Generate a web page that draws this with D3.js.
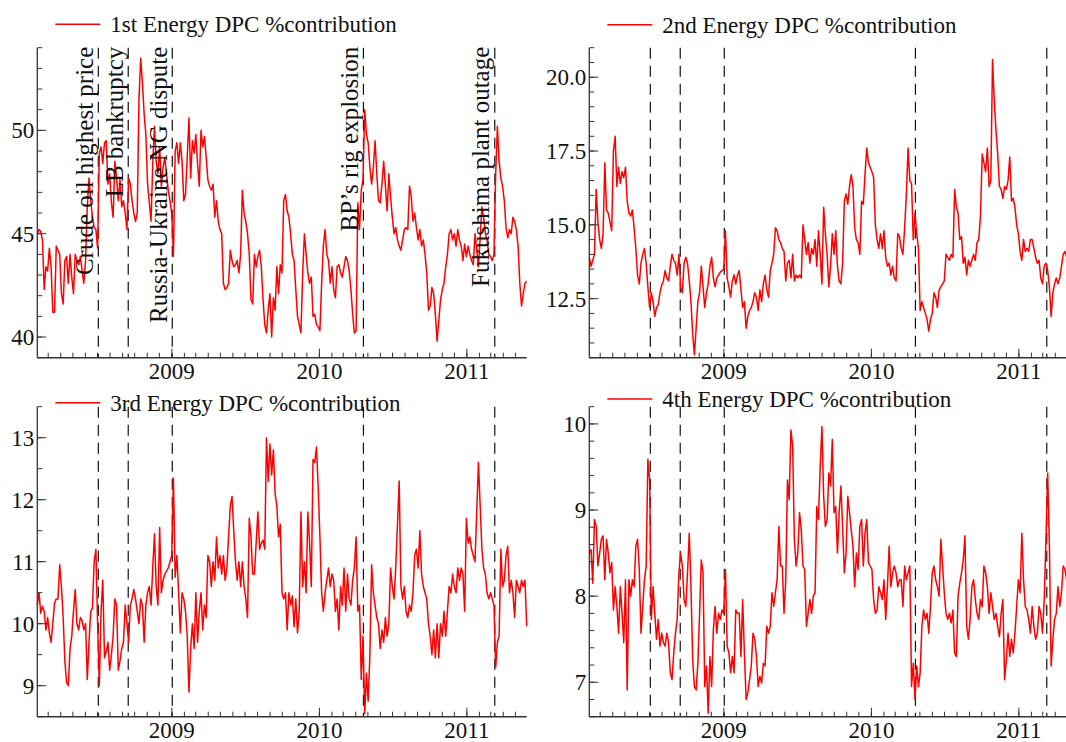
<!DOCTYPE html>
<html>
<head>
<meta charset="utf-8">
<script src="https://cdn.jsdelivr.net/npm/d3@7"></script>
<style>
  body { margin: 0; background: #fff; }
  svg { display: block; }
  svg text { font-family: "Liberation Serif", "Times New Roman", serif; }
</style>
</head>
<body>
<svg id="chart" width="1066" height="742" font-family="Liberation Serif, serif"></svg>
<script>
// series names (legend)
var seriesNames = ["1st Energy DPC %contribution", "2nd Energy DPC %contribution",
                   "3rd Energy DPC %contribution", "4th Energy DPC %contribution"];

// values, evenly spaced from firstDay to lastDay
var firstDay = "2008-02-03", lastDay = "2011-05-29";

var energy1 = [45.0,45.2,45.1,44.7,42.3,43.4,43.2,44.3,43.4,41.2,
  41.2,44.4,44.2,44.0,42.1,41.6,43.7,43.9,42.6,44.0,
  42.9,42.1,44.0,43.7,43.5,43.9,43.2,42.6,43.7,46.3,
  47.7,46.6,45.8,45.3,45.2,44.3,48.9,49.2,48.4,49.4,
  49.5,47.4,47.9,46.5,45.8,48.5,47.7,46.6,47.6,46.3,
  46.6,46.0,45.2,47.7,47.4,46.6,46.0,45.6,46.0,51.5,
  53.5,52.3,50.8,49.8,47.4,46.5,45.6,48.4,50.2,48.5,
  47.9,49.2,47.3,48.2,48.7,47.9,47.1,46.6,46.0,43.9,
  49.0,49.4,48.4,49.4,48.5,46.6,46.9,48.7,50.6,47.7,
  49.5,48.9,49.8,48.4,47.3,50.0,49.2,49.7,48.7,47.6,
  47.3,47.1,47.4,45.8,46.6,45.6,45.2,45.0,42.6,42.3,
  42.4,42.6,44.2,43.7,43.4,43.5,43.7,43.1,44.0,47.1,
  46.0,45.6,45.0,44.0,41.8,41.6,44.0,43.4,43.9,44.2,
  43.4,41.8,40.6,40.2,41.3,42.1,40.0,41.9,41.3,43.4,
  42.1,43.5,43.1,46.6,46.9,46.1,45.8,45.0,44.0,43.7,
  42.3,41.0,40.6,40.2,43.1,45.0,44.0,43.1,42.6,42.9,
  41.0,41.1,40.6,40.5,40.3,42.6,44.4,45.2,44.0,43.7,
  42.6,43.4,42.3,41.9,43.4,43.5,43.1,42.9,43.4,43.9,
  43.7,43.2,42.3,41.1,40.2,40.3,46.5,45.2,47.1,47.6,
  51.0,49.8,49.4,48.2,47.4,48.2,49.5,47.9,46.6,46.5,
  47.4,48.5,47.3,46.1,47.9,46.8,45.8,45.0,45.3,44.7,
  44.4,44.2,44.7,45.2,45.3,45.2,47.3,46.8,45.6,46.0,
  45.3,44.7,45.2,44.4,44.7,44.0,43.1,41.3,41.5,42.4,
  42.1,41.1,39.8,40.8,41.8,42.3,42.6,43.4,44.0,45.0,
  45.2,44.7,45.0,44.4,45.2,44.7,44.4,43.7,44.5,43.9,
  44.4,44.0,43.7,43.5,45.0,44.2,43.4,44.8,46.3,45.8,
  45.0,44.7,44.0,43.9,43.7,44.0,47.9,50.2,48.5,47.7,
  47.3,46.6,45.3,44.8,45.2,45.0,45.8,45.6,45.2,44.4,
  42.6,41.5,42.1,42.6,42.7];

var energy2 = [13.9,13.6,13.8,14.0,16.2,15.1,14.5,14.2,14.7,17.1,
  15.5,15.4,15.1,14.8,17.5,18.0,16.3,16.95,16.4,16.8,
  16.6,16.95,15.8,15.4,15.3,15.5,14.9,14.2,13.3,13.0,
  13.7,14.0,14.2,13.7,12.9,12.2,12.7,12.4,11.9,12.2,
  12.3,12.7,12.95,13.1,13.45,13.2,13.1,13.6,14.0,13.8,
  13.7,13.3,14.0,12.9,12.7,13.7,13.9,13.7,13.1,12.4,
  11.3,10.6,11.5,12.4,12.7,13.6,12.9,12.2,12.7,13.0,
  13.6,13.9,13.2,12.9,13.2,13.3,13.4,13.45,13.5,14.8,
  13.2,12.9,12.55,13.1,13.3,13.0,13.3,13.45,12.8,12.2,
  12.4,11.5,11.9,12.1,12.2,12.4,12.7,12.55,12.1,12.8,
  12.4,13.0,13.3,12.8,12.55,13.45,13.7,14.0,14.9,14.8,
  14.5,14.4,14.2,14.1,13.1,13.7,13.8,13.2,14.0,13.1,
  13.3,13.2,13.3,13.2,15.0,14.5,14.0,14.4,13.7,14.2,
  14.0,14.5,13.6,14.8,14.0,13.0,15.6,14.7,14.0,12.9,
  13.6,14.7,14.0,14.8,13.6,13.1,13.0,13.7,15.8,16.05,
  15.7,16.3,16.7,16.3,14.9,14.5,14.4,14.0,15.8,15.7,
  16.7,17.6,17.1,16.95,16.8,16.6,15.0,14.5,14.2,14.7,
  14.2,14.8,13.9,13.6,13.7,13.3,13.6,13.2,13.1,14.7,
  14.6,14.2,14.0,14.9,16.05,17.6,16.5,16.4,14.5,15.4,
  14.7,14.2,12.1,12.4,12.2,12.0,11.8,11.4,11.8,12.0,
  12.7,12.55,12.2,12.8,12.9,13.0,13.1,14.0,13.9,13.8,
  14.0,13.9,16.2,15.6,15.4,14.5,14.6,13.7,13.9,13.3,
  13.8,13.6,13.8,14.0,13.8,14.4,14.5,15.3,17.4,17.1,
  16.8,17.6,16.3,16.5,20.6,19.2,18.2,17.4,16.3,16.2,
  15.9,16.3,16.2,16.5,17.3,15.8,15.9,15.6,15.0,14.7,
  14.1,13.8,14.5,14.1,14.2,14.1,14.5,14.5,14.2,13.9,
  13.7,13.8,13.2,13.0,13.6,13.7,13.45,12.9,11.9,12.7,
  13.0,13.2,13.0,13.2,13.6,14.0,14.1,13.9,13.8,13.9,
  14.1,14.2,14.0,13.8,14.0];

var energy3 = [10.3,10.5,10.17,10.28,10.2,9.9,10.1,9.85,9.7,10.0,
  10.33,10.4,10.4,10.95,10.6,10.1,9.4,9.05,9.0,9.6,
  9.8,10.2,10.55,10.0,9.9,10.1,10.05,9.9,10.0,9.1,
  9.7,10.2,10.25,11.0,11.2,10.0,9.0,10.2,10.7,9.45,
  9.55,9.7,9.25,9.5,9.8,10.4,10.3,9.25,9.4,9.6,
  9.7,10.3,10.0,9.7,10.3,10.4,10.55,10.4,10.2,10.0,
  10.4,10.3,9.7,10.3,10.5,10.6,10.3,10.9,11.45,10.6,
  10.3,11.55,10.5,10.7,10.8,10.85,10.9,11.0,11.1,12.35,
  10.75,11.1,10.5,9.85,10.5,10.4,10.2,9.8,8.9,9.6,
  10.0,9.6,10.5,9.7,10.2,10.5,9.9,10.3,10.1,11.1,
  11.0,10.6,11.0,10.7,11.4,10.9,11.1,10.8,11.1,10.7,
  10.9,11.4,11.9,12.05,11.5,11.0,10.7,11.0,10.6,11.0,
  10.6,10.4,10.1,11.7,11.4,10.8,10.8,11.3,11.8,11.2,
  11.3,11.35,11.2,13.0,12.3,12.9,12.4,12.8,12.1,11.9,
  11.4,11.6,10.5,10.4,10.5,9.9,10.5,10.3,10.45,9.95,
  10.4,9.85,10.2,11.8,10.6,11.0,10.5,11.8,11.3,10.6,
  12.65,12.6,12.85,12.2,11.4,10.5,10.2,10.5,10.7,10.9,
  10.6,10.8,10.7,10.2,10.4,9.9,10.6,10.3,10.9,10.2,
  10.8,10.4,10.3,10.7,10.9,11.4,10.2,10.3,9.1,9.8,
  8.55,9.2,8.75,9.5,10.95,10.5,10.3,10.1,10.0,9.6,
  9.9,9.7,10.1,9.8,10.0,10.9,10.6,10.4,10.9,11.6,
  12.3,10.6,10.4,10.6,10.2,10.1,10.3,10.2,10.5,11.1,
  11.2,10.9,11.5,10.8,10.6,10.5,10.4,10.0,9.8,9.5,
  9.9,9.45,10.0,9.45,10.0,9.8,10.2,9.8,10.2,10.6,
  10.5,10.8,10.6,10.5,10.9,10.7,10.9,10.8,10.2,11.7,
  11.3,11.4,11.2,11.1,11.0,11.8,12.6,11.9,11.2,10.9,
  10.8,10.5,10.4,10.5,10.4,10.3,9.3,9.7,9.8,11.2,
  10.6,10.7,11.1,11.25,10.5,10.7,10.5,10.1,10.7,10.6,
  10.5,10.7,10.6,10.7,9.96];

var energy4 = [8.5,8.54,8.15,8.89,8.81,8.35,8.5,8.66,8.7,8.19,
  8.66,8.5,8.27,8.39,7.84,8.11,7.88,7.57,8.11,7.8,
  7.46,8.19,6.91,8.19,8.0,8.19,8.11,8.58,8.66,8.31,
  7.57,7.88,8.19,8.35,9.59,9.35,7.73,8.11,7.8,7.5,
  7.73,7.42,7.57,7.46,7.42,7.57,7.46,7.11,7.03,7.34,
  7.57,7.73,8.27,8.5,8.35,7.96,7.88,8.27,8.73,8.11,
  7.26,6.95,6.91,7.22,7.8,8.42,8.27,6.95,7.19,6.64,
  7.3,6.95,7.61,7.88,7.57,7.8,7.73,7.84,7.8,8.31,
  7.42,7.34,7.11,7.3,7.11,7.84,7.8,7.8,7.3,7.96,
  7.34,6.8,6.88,7.03,7.19,7.57,7.5,7.3,6.95,7.07,
  6.99,7.22,7.19,7.65,7.57,7.65,8.04,7.88,8.04,8.19,
  8.81,8.35,8.35,7.8,8.19,9.35,9.12,9.93,9.74,8.66,
  8.35,8.5,8.97,8.77,8.35,8.31,7.65,7.8,7.96,7.8,
  8.0,8.04,9.04,8.89,9.51,9.97,9.16,8.81,8.89,9.43,
  9.28,9.82,8.97,9.04,8.5,8.97,9.28,8.81,8.27,8.5,
  9.16,8.97,8.77,8.58,8.11,8.5,8.31,8.81,8.89,8.35,
  8.73,8.89,8.39,8.35,8.31,7.96,7.8,7.84,8.11,8.04,
  7.96,8.19,7.73,8.11,8.58,8.11,8.27,8.35,8.27,8.11,
  8.19,8.19,7.88,8.35,8.19,8.27,8.35,6.95,7.22,6.8,
  7.19,6.95,7.11,7.65,7.84,7.73,7.8,7.57,7.88,8.27,
  8.35,8.19,8.11,8.0,8.66,8.35,8.04,7.8,7.73,7.8,
  7.69,7.84,7.34,7.3,8.0,8.15,8.27,8.42,8.7,7.65,
  7.5,7.73,8.11,8.19,7.96,7.8,7.73,7.96,7.88,8.35,
  8.27,8.11,7.8,8.04,7.88,7.73,7.8,7.65,7.53,7.8,
  7.96,7.03,7.26,7.57,7.3,7.5,7.34,7.57,7.88,8.19,
  8.04,8.73,8.19,7.88,7.84,7.73,7.57,7.88,7.65,7.5,
  7.57,7.88,7.8,7.57,7.96,8.66,9.43,8.58,7.19,7.5,
  7.73,7.8,8.11,7.88,8.04,8.35,8.31,8.19,7.73,7.8,
  7.9,8.0,7.9,7.8,7.9];

// events (dashed lines) and their labels
var eventDates = ["2008-07-03", "2008-09-15", "2009-01-02", "2010-04-20", "2011-03-11"];
var eventLabels = ["Crude oil highest price", "LB bankruptcy", "Russia-Ukraine NG dispute",
                   "BP\u2019s rig explosion", "Fukushima plant outage"];

// axis ranges and tick labels
var yRange1 = [39, 54],    yTicks1 = [40, 45, 50],          yMinor1 = 1;
var yRange2 = [10.5, 21],  yTicks2 = [12.5, 15, 17.5, 20],  yMinor2 = 0.5;
var yRange3 = [8.5, 13.5], yTicks3 = [9, 10, 11, 12, 13],   yMinor3 = 0.5;
var yRange4 = [6.6, 10.2], yTicks4 = [7, 8, 9, 10],         yMinor4 = 0.2;
var yearTicks = ["2009", "2010", "2011"];

var parse = d3.timeParse("%Y-%m-%d");
var t0 = parse(firstDay), t1 = parse(lastDay);
var serif = "Liberation Serif, Times New Roman, serif";

var svg = d3.select("#chart"),
    pw = 489.4,
    ph = 310;

var panels = [
  {values: energy1, name: seriesNames[0], range: yRange1, ticks: yTicks1, minor: yMinor1, fmt: d3.format("d"),
   left: 37.3, top: 47.7, legendY: 24.3, notes: true},
  {values: energy2, name: seriesNames[1], range: yRange2, ticks: yTicks2, minor: yMinor2, fmt: d3.format(".1f"),
   left: 589.3, top: 47.7, legendY: 24.8, notes: false},
  {values: energy3, name: seriesNames[2], range: yRange3, ticks: yTicks3, minor: yMinor3, fmt: d3.format("d"),
   left: 37.3, top: 406.7, legendY: 402.7, notes: false},
  {values: energy4, name: seriesNames[3], range: yRange4, ticks: yTicks4, minor: yMinor4, fmt: d3.format("d"),
   left: 589.3, top: 406.7, legendY: 399, notes: false}
];

panels.forEach(function(p) {
  var g = svg.append("g").attr("transform", "translate(" + p.left + "," + p.top + ")");

  var x = d3.scaleTime().domain([t0, t1]).range([0, pw]);
  var y = d3.scaleLinear().domain(p.range).range([ph, 0]);

  var step = (t1 - t0) / (p.values.length - 1);
  var data = p.values.map(function(v, i) { return {date: new Date(+t0 + i * step), value: v}; });

  // event lines
  g.append("g")
    .selectAll("line")
    .data(eventDates)
    .enter().append("line")
      .attr("x1", function(d) { return x(parse(d)); })
      .attr("x2", function(d) { return x(parse(d)); })
      .attr("y1", 0)
      .attr("y2", ph)
      .attr("stroke", "#111")
      .attr("stroke-width", 1.2)
      .attr("stroke-dasharray", "11,7");

  // series line
  g.append("path")
    .datum(data)
    .attr("fill", "none")
    .attr("stroke", "#ff0000")
    .attr("stroke-width", 1.5)
    .attr("stroke-linejoin", "round")
    .attr("d", d3.line()
        .x(function(d) { return x(d.date); })
        .y(function(d) { return y(d.value); }));

  // y axis: line, minor + major ticks pointing inside
  var yMinorTicks = d3.range(Math.ceil(p.range[0] / p.minor) * p.minor, p.range[1] + 1e-9, p.minor);
  var yAxis = g.append("g").attr("stroke", "#333");
  yAxis.append("line").attr("x1", 0).attr("x2", 0).attr("y1", 0).attr("y2", ph).attr("stroke-width", 1.3);
  yAxis.selectAll(".minor")
    .data(yMinorTicks)
    .enter().append("line")
      .attr("x1", 0).attr("x2", 5)
      .attr("y1", function(d) { return y(d); })
      .attr("y2", function(d) { return y(d); });
  yAxis.selectAll(".major")
    .data(p.ticks)
    .enter().append("line")
      .attr("x1", 0).attr("x2", 9)
      .attr("y1", function(d) { return y(d); })
      .attr("y2", function(d) { return y(d); });

  g.append("g")
    .selectAll("text")
    .data(p.ticks)
    .enter().append("text")
      .attr("x", -3)
      .attr("y", function(d) { return y(d); })
      .attr("dy", "0.35em")
      .attr("text-anchor", "end")
      .attr("font-family", serif)
      .attr("font-size", 23)
      .attr("fill", "#111")
      .text(p.fmt);

  // x axis: monthly minor ticks, yearly major ticks
  var xAxis = g.append("g").attr("stroke", "#333");
  xAxis.append("line").attr("x1", 0).attr("x2", pw).attr("y1", ph).attr("y2", ph).attr("stroke-width", 1.6);
  xAxis.selectAll(".minor")
    .data(d3.timeMonth.range(t0, t1))
    .enter().append("line")
      .attr("x1", function(d) { return x(d); })
      .attr("x2", function(d) { return x(d); })
      .attr("y1", ph).attr("y2", ph - 5);
  xAxis.selectAll(".major")
    .data(yearTicks)
    .enter().append("line")
      .attr("x1", function(d) { return x(parse(d + "-01-01")); })
      .attr("x2", function(d) { return x(parse(d + "-01-01")); })
      .attr("y1", ph).attr("y2", ph - 9);

  g.append("g")
    .selectAll("text")
    .data(yearTicks)
    .enter().append("text")
      .attr("x", function(d) { return x(parse(d + "-01-01")); })
      .attr("y", ph + 21)
      .attr("text-anchor", "middle")
      .attr("font-family", serif)
      .attr("font-size", 23)
      .attr("fill", "#111")
      .text(function(d) { return d; });

  // legend
  var legY = p.legendY - p.top;
  g.append("line")
    .attr("x1", 18).attr("x2", 63)
    .attr("y1", legY).attr("y2", legY)
    .attr("stroke", "#ff0000")
    .attr("stroke-width", 1.5);
  g.append("text")
    .attr("x", 73)
    .attr("y", legY + 8)
    .attr("font-family", serif)
    .attr("font-size", 23)
    .attr("fill", "#111")
    .text(p.name);

  // rotated event labels (first panel only)
  if (p.notes) {
    g.append("g")
      .selectAll("text")
      .data(eventDates)
      .enter().append("text")
        .attr("transform", function(d) { return "translate(" + (x(parse(d)) - 5.5) + ",-1)rotate(-90)"; })
        .attr("text-anchor", "end")
        .attr("font-family", serif)
        .attr("font-size", 25)
        .attr("fill", "#111")
        .text(function(d, i) { return eventLabels[i]; });
  }
});
</script>
</body>
</html>
